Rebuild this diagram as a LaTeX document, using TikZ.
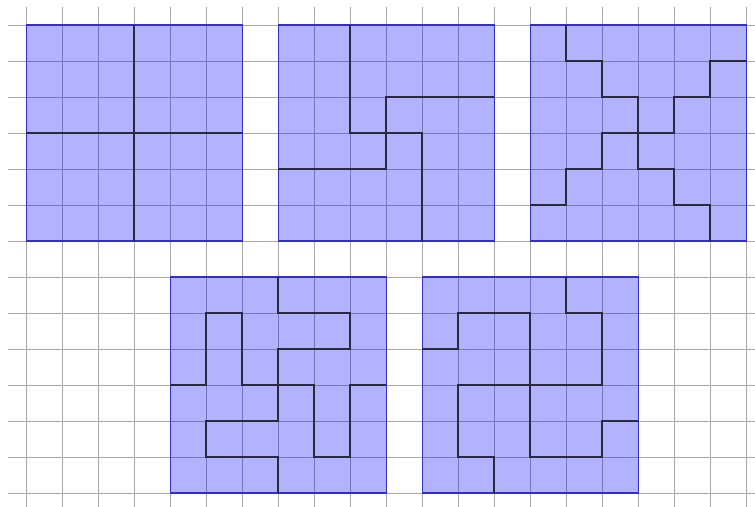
\documentclass[tikz,border=0pt]{standalone}
\usepackage{tikz}
\definecolor{Rule}{HTML}{A8A8A8}
\definecolor{Edge}{HTML}{3030C8}
\definecolor{Cut}{HTML}{2A2A3C}
\tikzset{
 gridline/.style={draw=Rule,line width=0.6pt},
 tile/.style={fill=blue,fill opacity=0.3,draw=Edge,draw opacity=1,line width=1.1pt},
 cut/.style={draw=Cut,line width=1.8pt}
}
\begin{document}
\begin{tikzpicture}[x=1cm,y=-1cm]
\useasboundingbox (-0.731,-0.694) rectangle (20.242,13.389);
% background grid
\foreach \i in {0,...,20} \draw[gridline] (\i,-0.5) -- (\i,13.389);
\foreach \j in {0,...,13} \draw[gridline] (-0.5,\j) -- (20.242,\j);
% the five squares
\foreach \px/\py in {0/0,7/0,14/0,4/7,11/7} \draw[tile] (\px,\py) rectangle ++(6,6);
% cuts
\begin{scope}[shift={(0,0)}]
\draw[cut] (3,0) -- (3,6);
\draw[cut] (0,3) -- (6,3);
\end{scope}
\begin{scope}[shift={(7,0)}]
\draw[cut] (2,0) -- (2,3) -- (4,3) -- (4,6);
\draw[cut] (6,2) -- (3,2) -- (3,4) -- (0,4);
\end{scope}
\begin{scope}[shift={(14,0)}]
\draw[cut] (1,0) -- (1,1) -- (2,1) -- (2,2) -- (3,2) -- (3,4) -- (4,4) -- (4,5) -- (5,5) -- (5,6);
\draw[cut] (6,1) -- (5,1) -- (5,2) -- (4,2) -- (4,3) -- (2,3) -- (2,4) -- (1,4) -- (1,5) -- (0,5);
\end{scope}
\begin{scope}[shift={(4,7)}]
\draw[cut] (3,0) -- (3,1) -- (5,1) -- (5,2) -- (3,2) -- (3,4) -- (1,4) -- (1,5) -- (3,5) -- (3,6);
\draw[cut] (0,3) -- (1,3) -- (1,1) -- (2,1) -- (2,3) -- (4,3) -- (4,5) -- (5,5) -- (5,3) -- (6,3);
\end{scope}
\begin{scope}[shift={(11,7)}]
\draw[cut] (4,0) -- (4,1) -- (5,1) -- (5,3) -- (1,3) -- (1,5) -- (2,5) -- (2,6);
\draw[cut] (0,2) -- (1,2) -- (1,1) -- (3,1) -- (3,5) -- (5,5) -- (5,4) -- (6,4);
\end{scope}
\end{tikzpicture}
\end{document}
